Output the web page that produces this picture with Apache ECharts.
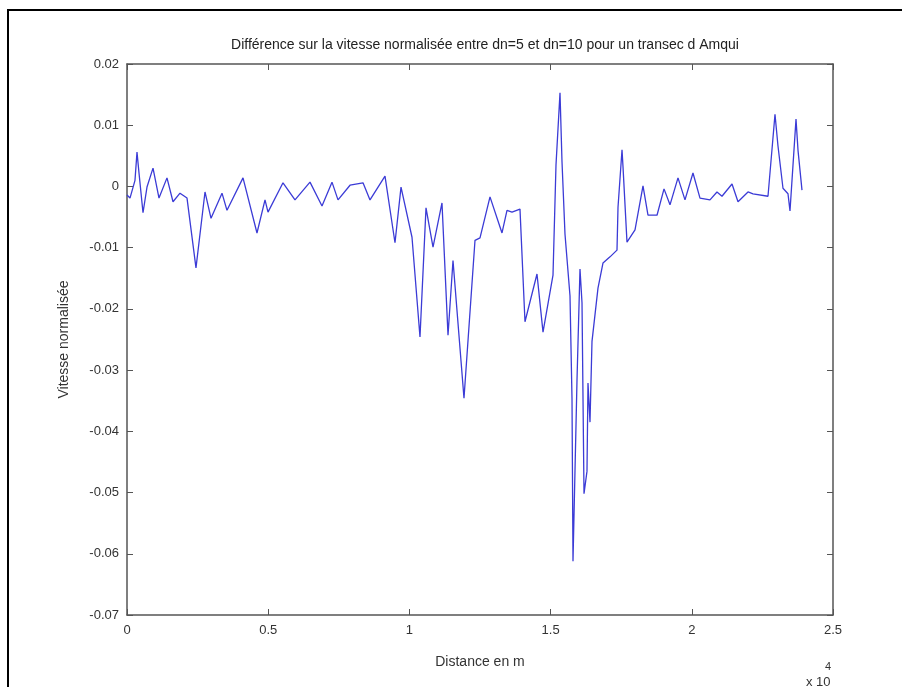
<!DOCTYPE html>
<html><head><meta charset="utf-8">
<script src="https://cdn.jsdelivr.net/npm/echarts@6/dist/echarts.min.js"></script>
<style>html,body{margin:0;padding:0;background:#fff}#c{width:902px;height:687px}</style>
</head><body><div id="c"></div>
<script>
// distance in units of 1e4 m
const distance = [0,0.0106,0.0283,0.0354,0.0425,0.0567,0.0708,0.0921,0.1133,0.1416,0.1629,0.1877,0.2125,0.2443,0.2762,0.2975,0.3364,0.3541,0.4108,0.4603,0.4887,0.4993,0.5524,0.5949,0.6480,0.6905,0.7259,0.7472,0.7897,0.8357,0.8605,0.9136,0.9490,0.9703,1.0092,1.0375,1.0588,1.0836,1.1154,1.1367,1.1544,1.1933,1.2323,1.2500,1.2854,1.3279,1.3456,1.3633,1.3916,1.4093,1.4518,1.4731,1.5085,1.5191,1.5333,1.5404,1.5510,1.5687,1.5758,1.5793,1.5935,1.6041,1.6112,1.6183,1.6289,1.6324,1.6395,1.6466,1.6678,1.6856,1.7104,1.7351,1.7387,1.7529,1.7564,1.7705,1.7989,1.8272,1.8449,1.8768,1.9016,1.9228,1.9511,1.9759,2.0042,2.0290,2.0644,2.0892,2.1069,2.1424,2.1636,2.1990,2.2167,2.2698,2.2946,2.3052,2.3229,2.3406,2.3477,2.3690,2.3761,2.3902];
const vitesse = [-0.0014,-0.0019,0.0010,0.0056,0.0022,-0.0043,-0.0001,0.0030,-0.0019,0.0014,-0.0025,-0.0011,-0.0019,-0.0133,-0.0009,-0.0052,-0.0011,-0.0039,0.0014,-0.0076,-0.0022,-0.0042,0.0006,-0.0022,0.0007,-0.0032,0.0007,-0.0022,0.0002,0.0006,-0.0022,0.0017,-0.0092,-0.0001,-0.0083,-0.0246,-0.0035,-0.0099,-0.0027,-0.0243,-0.0121,-0.0346,-0.0088,-0.0084,-0.0017,-0.0076,-0.0039,-0.0042,-0.0037,-0.0221,-0.0143,-0.0238,-0.0145,0.0035,0.0153,0.0040,-0.0078,-0.0179,-0.0347,-0.0612,-0.0316,-0.0135,-0.0190,-0.0502,-0.0465,-0.0321,-0.0385,-0.0253,-0.0166,-0.0125,-0.0115,-0.0104,-0.0034,0.0060,0.0032,-0.0091,-0.0071,0.0001,-0.0047,-0.0047,-0.0004,-0.0030,0.0014,-0.0022,0.0022,-0.0019,-0.0022,-0.0009,-0.0016,0.0004,-0.0025,-0.0009,-0.0012,-0.0016,0.0118,0.0066,-0.0003,-0.0012,-0.0040,0.0110,0.0059,-0.0006];
const xTicks = [0,0.5,1,1.5,2,2.5];
const yTicks = [0.02,0.01,0,-0.01,-0.02,-0.03,-0.04,-0.05,-0.06,-0.07];
const titleText = 'Différence sur la vitesse normalisée entre dn=5 et dn=10 pour un transec d Amqui';
const xName = 'Distance en m';
const yName = 'Vitesse normalisée';

const chart = echarts.init(document.getElementById('c'), null, {renderer:'canvas'});
const axisCol = '#555';
const labCol = '#333';
const font = 'Liberation Sans, Arial, sans-serif';
const fmtY = v => { const r = Math.round(v*100)/100; return r === 0 ? '0' : r.toFixed(2); };
const common = () => ({
  axisLine:{show:true,onZero:false,lineStyle:{color:axisCol,width:1.5}},
  axisTick:{show:true,inside:true,length:6,lineStyle:{color:axisCol}},
  splitLine:{show:false}
});
chart.setOption({
  animation:false,
  backgroundColor:'#fff',
  title:{text:titleText,left:480,top:33,textAlign:'center',
    textStyle:{fontSize:14,fontWeight:'normal',color:'#222',fontFamily:font}},
  grid:{left:127,right:69,top:64,bottom:72},
  xAxis:[
    Object.assign(common(),{type:'value',min:xTicks[0],max:xTicks[xTicks.length-1],interval:0.5,position:'bottom',
      name:xName,nameLocation:'middle',nameGap:40,
      nameTextStyle:{fontSize:14,color:labCol,fontFamily:font},
      axisLabel:{fontSize:13,color:labCol,fontFamily:font,margin:9,
        formatter:v=>String(Math.round(v*10)/10)}}),
    Object.assign(common(),{type:'value',min:xTicks[0],max:xTicks[xTicks.length-1],interval:0.5,position:'top',
      axisLabel:{show:false}})
  ],
  yAxis:[
    Object.assign(common(),{type:'value',min:yTicks[yTicks.length-1],max:yTicks[0],interval:0.01,position:'left',
      name:yName,nameLocation:'middle',nameGap:56,
      nameTextStyle:{fontSize:14,color:labCol,fontFamily:font},
      axisLabel:{fontSize:13,color:labCol,fontFamily:font,margin:8,formatter:fmtY}}),
    Object.assign(common(),{type:'value',min:yTicks[yTicks.length-1],max:yTicks[0],interval:0.01,position:'right',
      axisLabel:{show:false}})
  ],
  graphic:[
    {type:'rect',shape:{x:8,y:10,width:1000,height:1000},
      style:{fill:'none',stroke:'#000',lineWidth:2},silent:true,z:-1},
    {type:'text',left:806,top:676,style:{text:'x 10',fontSize:13,fill:labCol,fontFamily:font}},
    {type:'text',left:825,top:661,style:{text:'4',fontSize:11,fill:labCol,fontFamily:font}}
  ],
  series:[{
    type:'line',xAxisIndex:0,yAxisIndex:0,
    data:distance.map((d,i)=>[d,vitesse[i]]),
    showSymbol:false,symbol:'none',
    lineStyle:{color:'#3b3bd6',width:1.3},
    clip:true
  }]
});
</script></body></html>
